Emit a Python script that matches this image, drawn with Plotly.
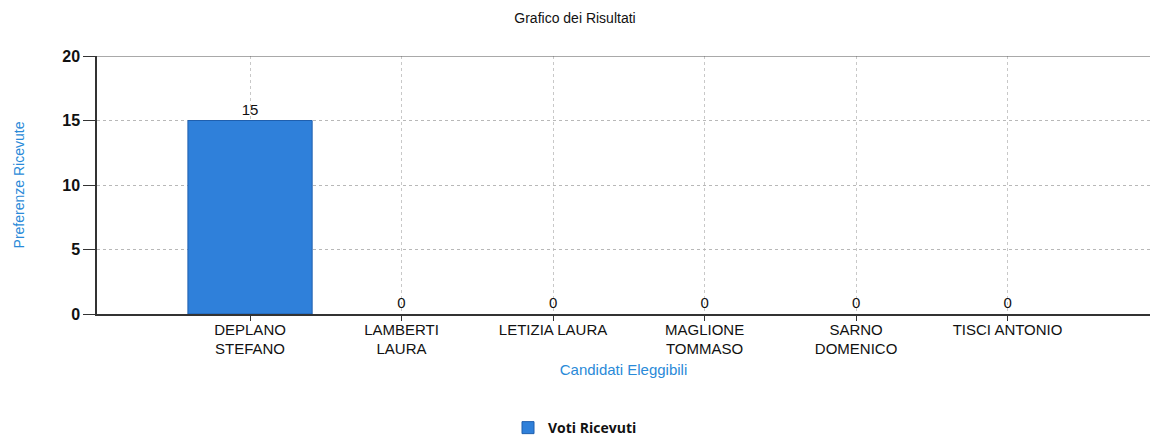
import plotly.graph_objects as go

categories = ["DEPLANO<br>STEFANO", "LAMBERTI<br>LAURA", "LETIZIA LAURA",
              "MAGLIONE<br>TOMMASO", "SARNO<br>DOMENICO", "TISCI ANTONIO"]
votes = [15, 0, 0, 0, 0, 0]
y_ticks = [0, 5, 10, 15, 20]

fig = go.Figure()
fig.add_trace(go.Bar(
    x=categories, y=votes, name="Voti Ricevuti",
    marker=dict(color="#2f80da",
                line=dict(color="#1f5fae", width=[1 if v > 0 else 0 for v in votes])),
    width=0.82,
    text=[str(v) for v in votes], textposition="outside",
    textfont=dict(family="Liberation Sans, Arial", size=15, color="#111"),
    cliponaxis=False,
))

fig.update_layout(
    width=1150, height=436,
    margin=dict(l=97, r=0, t=56, b=122, autoexpand=False),
    paper_bgcolor="white", plot_bgcolor="white",
    title=dict(text="Grafico dei Risultati", x=0.5, xanchor="center", y=0.959, yanchor="middle",
               font=dict(family="Liberation Sans, Arial", size=14, color="#111")),
    showlegend=True,
    legend=dict(orientation="h", xref="container", x=0.5, xanchor="center",
                y=-0.442, yanchor="middle",
                font=dict(family="Open Sans, Lato", size=14, color="#111", weight="bold"),
                itemwidth=30),
)
fig.update_xaxes(
    type="category", range=[-1.01, 5.94], automargin=False,
    showgrid=True, gridcolor="#c8c8c8", griddash="dot", gridwidth=1,
    showline=True, linecolor="#333", linewidth=1.5,
    ticks="outside", ticklen=5, tickcolor="#333", ticklabelstandoff=-4,
    tickfont=dict(family="Liberation Sans, Arial", size=15, color="#111"),
    title=dict(text="Candidati Eleggibili", standoff=8,
               font=dict(family="Liberation Sans, Arial", size=15, color="#2a8ad8")),
)
fig.update_yaxes(
    range=[0, 20], tickvals=y_ticks, automargin=False,
    showgrid=True, gridcolor="#b8b8b8", griddash="dot", gridwidth=1,
    showline=True, linecolor="#333", linewidth=1.5,
    ticks="outside", ticklen=12, tickcolor="#333",
    tickfont=dict(family="Liberation Sans, Arial", size=16, color="#111", weight="bold"),
    title=dict(text="Preferenze Ricevute", standoff=34,
               font=dict(family="Liberation Sans Narrow, Liberation Sans", size=14, color="#2a8ad8")),
    zeroline=False,
)
fig.add_shape(type="line", xref="paper", yref="y", x0=0, x1=1, y0=20, y1=20,
              line=dict(color="#555", width=1))

fig.write_html("out.html", config={"displayModeBar": False},
               post_script="document.body.style.margin='0';")
